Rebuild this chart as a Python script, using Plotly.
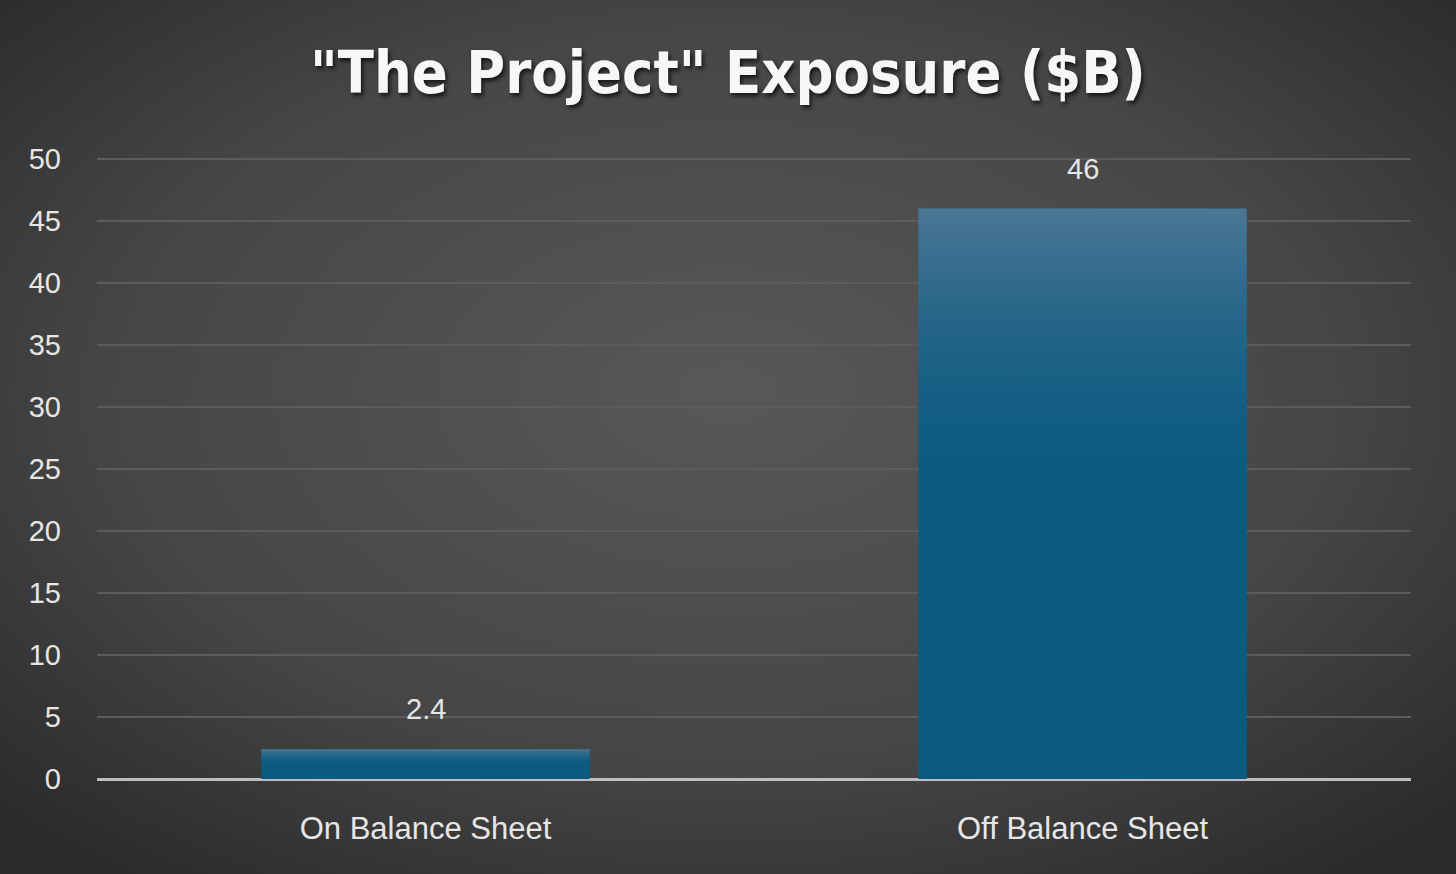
import base64
import plotly.graph_objects as go

# ---- data ----
categories = ["On Balance Sheet", "Off Balance Sheet"]
values = [2.4, 46]
value_labels = ["2.4", "46"]
y_ticks = [0, 5, 10, 15, 20, 25, 30, 35, 40, 45, 50]
title_text = '"The Project" Exposure ($B)'

W, H = 1456, 874
y_max = 50
y_top = 50.4  # small headroom so the top gridline is drawn
top_px, bottom_px = 159, 779  # where 50 and 0 sit
ph = (bottom_px - top_px) * y_top / y_max
L, R, B = 97, 45, H - bottom_px
T = H - B - ph
pw = W - L - R

positions = list(range(len(categories)))
bar_width = 0.5
label_font = dict(family="Liberation Sans, Arial, sans-serif", size=29, color="#e6e6e6")

fig = go.Figure()

fig.add_trace(go.Bar(
    x=positions, y=values, width=bar_width,
    marker=dict(color="#0b5a80", line=dict(width=0)),
    hoverinfo="x+y", showlegend=False,
))

# gradient sheen on each bar, built from the same data
for xpos, v in zip(positions, values):
    x0, x1 = xpos - bar_width / 2, xpos + bar_width / 2
    fig.add_trace(go.Scatter(
        x=[x0, x1, x1, x0, x0], y=[0, 0, v, v, 0],
        mode="lines", line=dict(width=0), fill="toself",
        fillgradient=dict(type="vertical",
                          colorscale=[[0, "rgba(11,90,128,0)"],
                                      [0.45, "rgba(11,90,128,0)"],
                                      [1, "rgba(80,120,150,0.95)"]]),
        hoverinfo="skip", showlegend=False,
    ))

annotations = [
    dict(x=xpos, y=v, text=lab, showarrow=False, xref="x", yref="y",
         yanchor="bottom", yshift=22, font=label_font)
    for xpos, v, lab in zip(positions, values, value_labels)
]

svg = (
    f'<svg xmlns="http://www.w3.org/2000/svg" width="{W}" height="{H}">'
    '<defs><radialGradient id="g" cx="50%" cy="45%" r="70%">'
    '<stop offset="0" stop-color="#585858"/>'
    '<stop offset="0.6" stop-color="#464646"/>'
    '<stop offset="1" stop-color="#2a2a2a"/>'
    '</radialGradient></defs>'
    '<rect width="100%" height="100%" fill="url(#g)"/></svg>'
)
src = "data:image/svg+xml;base64," + base64.b64encode(svg.encode()).decode()

fig.update_layout(
    width=W, height=H,
    margin=dict(l=L, r=R, t=T, b=B, pad=0),
    paper_bgcolor="#3e3e3e", plot_bgcolor="rgba(0,0,0,0)",
    images=[dict(source=src, xref="paper", yref="paper",
                 x=-L / pw, y=1 + T / ph, sizex=W / pw, sizey=H / ph,
                 xanchor="left", yanchor="top", sizing="stretch", layer="below")],
    annotations=annotations,
    title=dict(text=title_text, x=0.5, xref="container", xanchor="center",
               y=1 - 72 / H, yref="container", yanchor="middle",
               font=dict(family="DejaVu Sans Condensed, Liberation Sans Narrow, sans-serif",
                         size=59, color="#f7f7f7", weight="bold",
                         shadow="2px 3px 4px rgba(0,0,0,0.7)")),
    xaxis=dict(range=[-0.5, 1.5], tickvals=positions, ticktext=categories,
               showgrid=False, zeroline=False, showline=False, ticks="",
               ticklabelstandoff=28,
               tickfont=dict(family="Liberation Sans, Arial, sans-serif", size=31, color="#e6e6e6"),
               fixedrange=True),
    yaxis=dict(range=[0, y_top], tickvals=y_ticks, showgrid=True, gridcolor="#5c5c5c", gridwidth=2,
               zeroline=True, zerolinecolor="#bdbdbd", zerolinewidth=3, showline=False,
               ticks="", ticklabelstandoff=35,
               tickfont=dict(family="Liberation Sans, Arial, sans-serif", size=29, color="#e6e6e6"),
               fixedrange=True),
    bargap=0.5,
)

fig.write_html("out.html", config={"displayModeBar": False},
               post_script="document.body.style.margin='0';")
